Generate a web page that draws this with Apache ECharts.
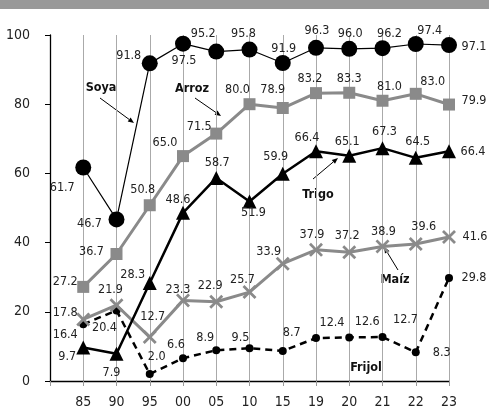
<!DOCTYPE html>
<html><head><meta charset="utf-8">
<script src="https://cdn.jsdelivr.net/npm/echarts@6/dist/echarts.min.js"></script>
<style>html,body{margin:0;padding:0;background:#fff}#c{width:489px;height:411px}</style>
</head><body><div id="c"></div>
<script>
const years = ['85','90','95','00','05','10','15','19','20','21','22','23'];
const soya   = [61.7, 46.7, 91.8, 97.5, 95.2, 95.8, 91.9, 96.3, 96.0, 96.2, 97.4, 97.1];
const arroz  = [27.2, 36.7, 50.8, 65.0, 71.5, 80.0, 78.9, 83.2, 83.3, 81.0, 83.0, 79.9];
const trigo  = [9.7, 7.9, 28.3, 48.6, 58.7, 51.9, 59.9, 66.4, 65.1, 67.3, 64.5, 66.4];
const maiz   = [17.8, 21.9, 12.7, 23.3, 22.9, 25.7, 33.9, 37.9, 37.2, 38.9, 39.6, 41.6];
const frijol = [16.4, 20.4, 2.0, 6.6, 8.9, 9.5, 8.7, 12.4, 12.6, 12.7, 8.3, 29.8];
const yTicks = [0, 20, 40, 60, 80, 100];

// label offsets (styling, relative to each point)
const soyaOff   = [[-21,20],[-27,4],[-21,-8],[1,17],[-13,-18],[-6,-16],[1,-14],[1,-17],[1,-15],[7,-14],[14,-13],[25,2]];
const arrozOff  = [[-18,-5],[-25,-2],[-7,-15],[-18,-13],[-17,-7],[-12,-14],[-10,-18],[-6,-14],[0,-14],[7,-14],[17,-12],[25,-4]];
const trigoOff  = [[-16,9],[-5,19],[-17,-8],[-5,-13],[1,-15],[4,11],[-7,-17],[-9,-14],[-2,-14],[2,-16],[2,-16],[24,0]];
const maizOff   = [[-18,-7],[-6,-15],[3,-20],[-5,-11],[-6,-16],[-7,-12],[-14,-12],[-4,-15],[-2,-17],[1,-15],[8,-17],[26,0]];
const frijolOff = [[-18,10],[-12,17],[7,-17],[-7,-13],[-11,-12],[-9,-10],[9,-18],[16,-15],[18,-16],[23,-17],[26,0],[25,0]];

// pick a narrow font if installed
function hasFont(name) {
  const c = document.createElement('canvas').getContext('2d');
  const t = '95.2 Soya Arroz 0123456789';
  c.font = '20px monospace'; const a = c.measureText(t).width;
  c.font = '20px "' + name + '", monospace'; const b = c.measureText(t).width;
  c.font = '20px serif'; const a2 = c.measureText(t).width;
  c.font = '20px "' + name + '", serif'; const b2 = c.measureText(t).width;
  return a !== b || a2 !== b2;
}
const NARROW = hasFont('Liberation Sans Narrow');
const FONT = NARROW ? "'Liberation Sans Narrow',sans-serif" : "'DejaVu Sans Condensed',sans-serif";
const LBL = NARROW ? 14 : 12.5;
const AX = NARROW ? 15 : 14;
const categories = [''].concat(years);

function mkSeries(name, vals, offs, color, lineW, symbol, size, dashed, z) {
  return {
    name, type: 'line', z,
    data: ['-'].concat(vals.map((v, i) => ({ value: v, label: { offset: offs[i] } }))),
    symbol, symbolSize: size, showSymbol: true,
    lineStyle: { color, width: lineW, type: dashed ? [7, 5] : 'solid' },
    itemStyle: { color, borderWidth: 0 },
    label: {
      show: true, position: 'inside', align: 'center', verticalAlign: 'middle',
      formatter: p => p.value.toFixed(1), color: '#222', fontSize: LBL, fontFamily: FONT
    },
    emphasis: { disabled: true }, animation: false
  };
}

const xShape = 'path://M0,1.4L1.4,0L5,3.6L8.6,0L10,1.4L6.4,5L10,8.6L8.6,10L5,6.4L1.4,10L0,8.6L3.6,5Z';

function arrow(x1, y1, x2, y2) {
  const a = Math.atan2(y2 - y1, x2 - x1), L = 6, W = 2.5;
  const bx = x2 - L * Math.cos(a), by = y2 - L * Math.sin(a);
  return [
    { type: 'line', shape: { x1, y1, x2: bx, y2: by }, style: { stroke: '#000', lineWidth: 1 } },
    { type: 'polygon', shape: { points: [[x2, y2], [bx - W * Math.sin(a), by + W * Math.cos(a)], [bx + W * Math.sin(a), by - W * Math.cos(a)]] }, style: { fill: '#000' } }
  ];
}
function label(text, x, y) {
  return { type: 'text', x, y, style: { text, fill: '#111', fontSize: LBL, fontWeight: 'bold', fontFamily: FONT, align: 'center', verticalAlign: 'middle' } };
}

const chart = echarts.init(document.getElementById('c'), null, { renderer: 'canvas' });
chart.setOption({
  backgroundColor: '#fff',
  animation: false,
  grid: { left: 50, right: 40, top: 35, bottom: 30, containLabel: false },
  xAxis: {
    type: 'category', data: categories, boundaryGap: false,
    axisLine: { lineStyle: { color: '#000', width: 1.3 } },
    axisTick: { show: true, length: 5, interval: 0, lineStyle: { color: '#999' } },
    axisLabel: { interval: 0, color: '#222', fontSize: AX, fontFamily: FONT, margin: 14 },
    splitLine: { show: true, interval: 0, lineStyle: { color: '#aaa', width: 1 } }
  },
  yAxis: {
    type: 'value', min: 0, max: 100, interval: 20,
    axisLine: { show: true, lineStyle: { color: '#000', width: 1.3 } },
    axisTick: { show: true, length: 5, lineStyle: { color: '#000' } },
    axisLabel: { color: '#222', fontSize: AX, fontFamily: FONT, margin: 20,
      formatter: v => yTicks.includes(v) ? String(v) : '' },
    splitLine: { show: false }
  },
  series: [
    mkSeries('Frijol', frijol, frijolOff, '#000', 2.5, 'circle', 8, true, 2),
    mkSeries('Maíz', maiz, maizOff, '#8a8a8a', 3, xShape, 14, false, 3),
    mkSeries('Arroz', arroz, arrozOff, '#8a8a8a', 3, 'rect', 12, false, 4),
    mkSeries('Trigo', trigo, trigoOff, '#000', 2.5, 'triangle', 14, false, 5),
    mkSeries('Soya', soya, soyaOff, '#000', 1.2, 'circle', 16, false, 6)
  ],
  graphic: [
    { type: 'rect', shape: { x: 0, y: 0, width: 489, height: 9 }, style: { fill: '#999' } },
    label('Soya', 101, 88), ...arrow(100, 98, 134, 123),
    label('Arroz', 192, 89), ...arrow(195, 98, 221, 116),
    label('Trigo', 318, 195), ...arrow(313, 179, 338, 158),
    label('Maíz', 395, 280), ...arrow(398, 270, 384, 247),
    label('Frijol', 366, 368)
  ]
});
</script></body></html>
